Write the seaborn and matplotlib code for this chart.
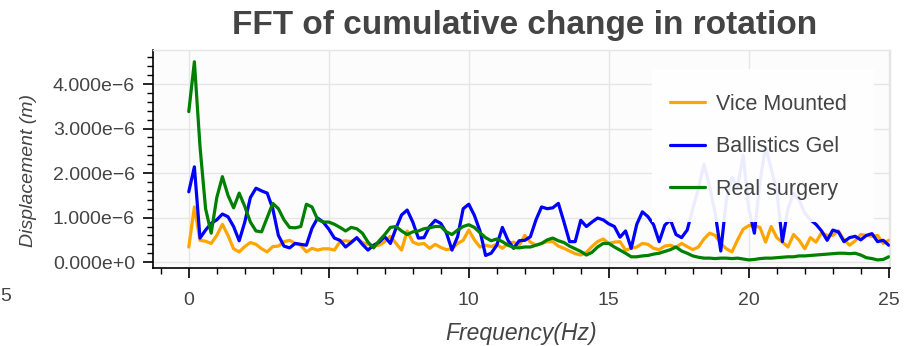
import numpy as np
import pandas as pd
import matplotlib
matplotlib.use("Agg")
import matplotlib.pyplot as plt
import seaborn as sns
from matplotlib.patches import Rectangle
from matplotlib.ticker import MultipleLocator, FuncFormatter

# FFT bins, 0.2 Hz apart, 0..25 Hz
FREQ_STEP = 0.2
N_BINS = 126
freqs = np.round(np.arange(N_BINS) * FREQ_STEP, 1)

# amplitudes in micrometres (x 1e-6 m)
vice_mounted = [
    0.34, 1.24, 0.49, 0.47, 0.42, 0.60, 0.85, 0.60, 0.30, 0.23,
    0.35, 0.44, 0.40, 0.30, 0.23, 0.35, 0.36, 0.46, 0.49, 0.42,
    0.38, 0.23, 0.31, 0.27, 0.30, 0.30, 0.27, 0.46, 0.48, 0.46,
    0.54, 0.44, 0.40, 0.36, 0.38, 0.46, 0.58, 0.42, 0.27, 0.70,
    0.45, 0.40, 0.42, 0.31, 0.40, 0.33, 0.28, 0.30, 0.42, 0.49,
    0.72, 0.50, 0.34, 0.38, 0.35, 0.40, 0.31, 0.42, 0.45, 0.38,
    0.60, 0.45, 0.38, 0.42, 0.46, 0.46, 0.36, 0.31, 0.25, 0.19,
    0.16, 0.22, 0.35, 0.46, 0.52, 0.42, 0.45, 0.46, 0.27, 0.31,
    0.34, 0.42, 0.40, 0.31, 0.28, 0.36, 0.38, 0.33, 0.42, 0.35,
    0.28, 0.34, 0.52, 0.65, 0.60, 0.42, 0.30, 0.23, 0.50, 0.74,
    0.82, 0.82, 0.78, 0.45, 0.80, 0.55, 0.45, 0.34, 0.62, 0.49,
    0.30, 0.55, 0.45, 0.66, 0.60, 0.60, 0.70, 0.50, 0.38, 0.48,
    0.62, 0.60, 0.58, 0.60, 0.42, 0.49,
]
ballistics_gel = [
    1.58, 2.14, 0.54, 0.72, 0.87, 0.95, 1.08, 1.02, 0.80, 0.48,
    0.90, 1.45, 1.66, 1.60, 1.55, 1.20, 0.60, 0.36, 0.32, 0.42,
    0.40, 0.38, 0.76, 0.99, 0.90, 0.74, 0.54, 0.49, 0.34, 0.44,
    0.55, 0.40, 0.27, 0.38, 0.45, 0.57, 0.42, 0.76, 1.06, 1.17,
    0.90, 0.54, 0.55, 0.80, 0.94, 0.87, 0.66, 0.27, 0.57, 1.20,
    1.30, 1.05, 0.70, 0.15, 0.20, 0.38, 0.78, 0.49, 0.31, 0.48,
    0.49, 0.57, 0.95, 1.24, 1.20, 1.22, 1.32, 0.90, 0.46, 0.46,
    0.94, 0.80, 0.90, 0.99, 0.95, 0.86, 0.80, 0.56, 0.70, 0.31,
    0.85, 1.13, 1.02, 0.84, 0.46, 0.83, 0.95, 0.62, 0.55, 0.72,
    1.20, 1.65, 2.20, 1.70, 1.10, 0.25, 1.40, 1.90, 1.70, 2.40,
    1.20, 0.65, 1.80, 2.60, 2.10, 1.60, 0.46, 1.20, 1.55, 1.40,
    1.10, 0.95, 0.85, 0.70, 0.49, 0.72, 0.68, 0.46, 0.55, 0.58,
    0.50, 0.60, 0.64, 0.46, 0.49, 0.38,
]
real_surgery = [
    3.38, 4.50, 2.60, 1.20, 0.65, 1.45, 1.92, 1.50, 1.22, 1.55,
    1.25, 0.90, 0.70, 0.68, 1.00, 1.32, 1.20, 0.95, 0.78, 0.77,
    0.80, 1.30, 1.24, 0.96, 0.90, 0.90, 0.85, 0.78, 0.70, 0.78,
    0.75, 0.65, 0.45, 0.32, 0.48, 0.62, 0.78, 0.80, 0.70, 0.62,
    0.68, 0.70, 0.75, 0.77, 0.80, 0.80, 0.68, 0.62, 0.72, 0.80,
    0.84, 0.78, 0.66, 0.55, 0.48, 0.52, 0.46, 0.38, 0.33, 0.32,
    0.34, 0.34, 0.38, 0.42, 0.50, 0.54, 0.48, 0.44, 0.36, 0.30,
    0.24, 0.16, 0.22, 0.34, 0.42, 0.42, 0.34, 0.27, 0.20, 0.12,
    0.12, 0.14, 0.15, 0.18, 0.20, 0.24, 0.28, 0.34, 0.25, 0.20,
    0.14, 0.11, 0.09, 0.09, 0.08, 0.09, 0.09, 0.08, 0.09, 0.07,
    0.05, 0.06, 0.08, 0.09, 0.09, 0.10, 0.11, 0.12, 0.12, 0.14,
    0.14, 0.15, 0.16, 0.17, 0.18, 0.19, 0.20, 0.20, 0.19, 0.20,
    0.16, 0.10, 0.08, 0.05, 0.06, 0.12,
]

series_names = ["Vice Mounted", "Ballistics Gel", "Real surgery"]
series_colors = ["#ffa500", "#0000ff", "#008000"]

sns.set_style("whitegrid")
plt.rcParams["font.family"] = ["Liberation Sans", "DejaVu Sans"]
TEXT = "#444444"

frames = []
for name, vals in zip(series_names, [vice_mounted, ballistics_gel, real_surgery]):
    frames.append(pd.DataFrame({"Frequency": freqs,
                                "Displacement": np.array(vals) * 1e-6,
                                "Series": name}))
df = pd.concat(frames, ignore_index=True)

fig = plt.figure(figsize=(9.05, 3.46), dpi=100)
ax = fig.add_axes([0.169, 0.225, 0.814, 0.63])
ax.set_facecolor("#fcfcfc")

sns.lineplot(data=df, x="Frequency", y="Displacement", hue="Series",
             hue_order=series_names, palette=series_colors, linewidth=2.3,
             ax=ax, legend=False)

ax.set_xlim(-1.28, 25.03)
ax.set_ylim(-0.135e-6, 4.76e-6)

ax.xaxis.set_major_locator(MultipleLocator(5))
ax.xaxis.set_minor_locator(MultipleLocator(1))
ax.yaxis.set_major_locator(MultipleLocator(1e-6))
ax.yaxis.set_minor_locator(MultipleLocator(0.2e-6))


def sci_fmt(v, pos):
    m = round(v * 1e6)
    if m == 0:
        return "0.000e+0"
    return f"{m:.3f}e\u22126"


ax.yaxis.set_major_formatter(FuncFormatter(sci_fmt))

ax.grid(True, which="major", color="#e6e6e6", linewidth=1)
ax.grid(False, which="minor")
for side in ["top", "right"]:
    ax.spines[side].set_color("#e5e5e5")
    ax.spines[side].set_linewidth(1)
for side in ["left", "bottom"]:
    ax.spines[side].set_color("black")
    ax.spines[side].set_linewidth(1.2)

ax.tick_params(axis="both", which="major", direction="out", length=7,
               width=1.2, color="black", labelcolor=TEXT)
ax.tick_params(axis="both", which="minor", direction="out", length=4,
               width=1, color="black")
ax.tick_params(axis="y", which="major", labelsize=14, pad=6)
ax.tick_params(axis="x", which="major", labelsize=14, pad=10)
ax.tick_params(left=True, bottom=True, which="both")

ax.set_xlabel("Frequency(Hz)", fontsize=16.5, style="italic", color=TEXT)
ax.set_ylabel("Displacement (m)", fontsize=14, style="italic", color=TEXT)
ax.xaxis.set_label_coords(0.50, -0.245)
ax.yaxis.set_label_coords(-0.157, 0.45)

fig.suptitle("FFT of cumulative change in rotation", x=0.58, y=0.97,
             fontsize=24, fontweight="bold", color=TEXT)

# stray label clipped at the left edge of the original screenshot
fig.text(0.0, 0.142, "5", fontsize=14, color=TEXT, ha="left", va="center")

# legend panel (semi-opaque, covers the lines behind it)
ax.add_patch(Rectangle((0.678, 0.211), 0.301, 0.702, transform=ax.transAxes,
                       facecolor="white", alpha=0.93, edgecolor="none",
                       zorder=4))
handles = [plt.Line2D([], [], color=c, linewidth=2.3) for c in series_colors]
leg = ax.legend(handles, series_names, loc="upper left",
                bbox_to_anchor=(0.7015, 0.80), borderaxespad=0, borderpad=0,
                fontsize=15.5, frameon=False, labelspacing=1.0,
                handlelength=1.63, handletextpad=0.5)
leg.set_zorder(5)
for t in leg.get_texts():
    t.set_color(TEXT)

fig.savefig("out.png", dpi=100)
